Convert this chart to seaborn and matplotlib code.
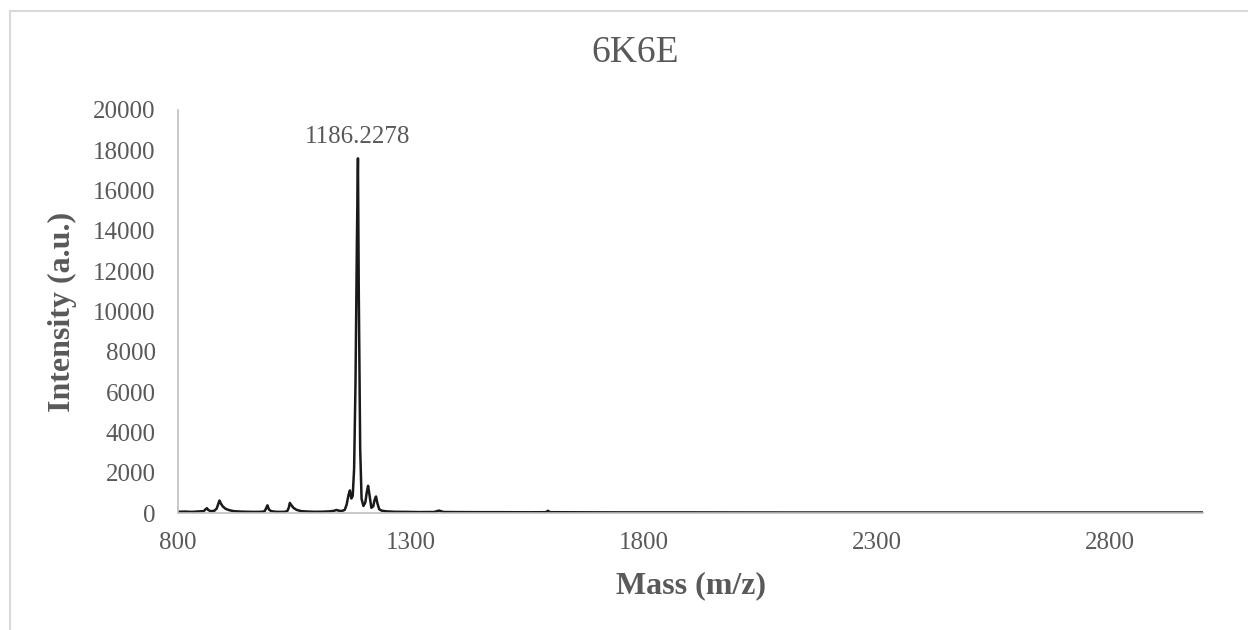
import matplotlib
matplotlib.use("Agg")
import matplotlib.pyplot as plt
from matplotlib.patches import Rectangle
import seaborn as sns
import pandas as pd

# Mass spectrum of 6K6E (m/z vs. intensity)
mz = [800, 815, 830, 845, 855, 859, 862, 865, 870, 878, 883, 886, 889, 892,
      896, 902, 910, 920, 935, 950, 965, 980, 986, 989, 992, 995, 1000, 1010,
      1020, 1030, 1035, 1038, 1040, 1043, 1048, 1055, 1065, 1080, 1095, 1110,
      1125, 1135, 1140, 1146, 1152, 1158, 1162, 1166, 1169, 1172, 1175, 1178,
      1181, 1184, 1186.2278, 1188, 1191, 1194, 1198, 1202, 1205, 1208, 1211,
      1215, 1219, 1222, 1225, 1228, 1232, 1238, 1248, 1265, 1290, 1320, 1350,
      1360, 1370, 1400, 1450, 1500, 1550, 1590, 1594, 1598, 1650, 1750, 1900,
      2100, 2300, 2500, 2700, 2900, 3000]
intensity = [60, 70, 55, 80, 90, 180, 240, 150, 90, 110, 220, 420, 620, 470,
             330, 210, 140, 90, 70, 60, 55, 60, 90, 230, 380, 180, 90, 60,
             55, 60, 110, 280, 500, 400, 250, 150, 90, 70, 60, 65,
             80, 110, 150, 110, 100, 160, 420, 900, 1120, 720, 850, 2200,
             6500, 13500, 17600, 11000, 3200, 700, 350, 520, 1000, 1350, 900,
             260, 330, 650, 820, 480, 180, 110, 80, 60, 55, 45, 50,
             120, 50, 45, 40, 40, 35, 40, 110, 40, 35, 30, 30,
             25, 25, 25, 25, 25, 25]

x_ticks = [800, 1300, 1800, 2300, 2800]
y_ticks = [0, 2000, 4000, 6000, 8000, 10000, 12000, 14000, 16000, 18000, 20000]
peak_mz = 1186.2278
peak_label = "1186.2278"

spectrum = pd.DataFrame({"mz": mz, "intensity": intensity})

sns.set_style("white")
plt.rcParams["font.family"] = ["Liberation Serif", "DejaVu Serif"]

text_color = "#595959"
fig = plt.figure(figsize=(12.48, 6.30), dpi=100)
ax = fig.add_axes([178 / 1248, 1 - 513 / 630, (1203 - 178) / 1248, (513 - 110) / 630])

sns.lineplot(data=spectrum, x="mz", y="intensity", ax=ax,
             color="#1a1a1a", linewidth=1.8, sort=True)

peak_int = intensity[mz.index(peak_mz)]
ax.annotate(peak_label, xy=(peak_mz, peak_int), xytext=(0, 11),
            textcoords="offset points", ha="center", va="baseline",
            fontsize=18, color=text_color)

ax.set_xlim(800, 3000)
ax.set_ylim(0, 20000)
ax.set_xticks(x_ticks)
ax.set_yticks(y_ticks)
ax.tick_params(axis="both", length=0, labelsize=18, labelcolor=text_color)
ax.tick_params(axis="x", pad=14)
ax.tick_params(axis="y", pad=16)

ax.set_xlabel("Mass (m/z)", fontsize=23, fontweight="bold", color=text_color, labelpad=12)
ax.set_ylabel("Intensity (a.u.)", fontsize=23, fontweight="bold", color=text_color, labelpad=12)

# chart title, centred over the whole chart frame
fig.text(635 / 1248, 1 - 53 / 630, "6K6E", fontsize=27, color=text_color,
         ha="center", va="center")

for side in ["top", "right"]:
    ax.spines[side].set_visible(False)
for side in ["left", "bottom"]:
    ax.spines[side].set_color("#bfbfbf")
    ax.spines[side].set_linewidth(1.2)

# chart frame
fig.patches.append(Rectangle((10 / 1248, -0.05), 1.1, 1 - 11 / 630 + 0.05,
                             transform=fig.transFigure, fill=False,
                             edgecolor="#d9d9d9", linewidth=1.5, zorder=0))

fig.savefig("out.png", dpi=100, facecolor="white")
